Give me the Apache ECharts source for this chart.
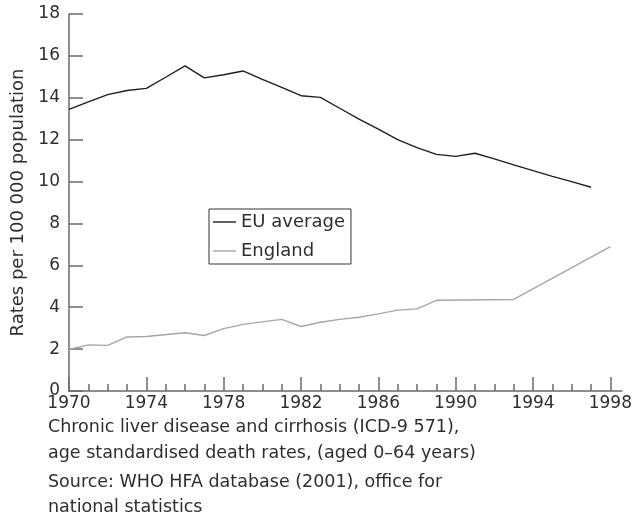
<!DOCTYPE html>
<html>
<head>
<meta charset="utf-8">
<script src="https://cdn.jsdelivr.net/npm/echarts@6/dist/echarts.min.js"></script>
<style>
  html, body { margin: 0; padding: 0; background: #fff; }
  #main { width: 635px; height: 518px; }
</style>
</head>
<body>
<div id="main"></div>
<script>
// EU average, one point per year
const euYears = [1970, 1971, 1972, 1973, 1974, 1975, 1976, 1977, 1978, 1979, 1980, 1981, 1982, 1983,
    1984, 1985, 1986, 1987, 1988, 1989, 1990, 1991, 1992, 1993, 1994, 1995, 1996, 1997]
const euRates = [13.45, 13.8, 14.15, 14.35, 14.45, 14.98, 15.52, 14.95, 15.1, 15.28, 14.88, 14.5, 14.1, 14.02,
    13.5, 12.98, 12.5, 12.0, 11.62, 11.3, 11.2, 11.35, 11.08, 10.8, 10.52, 10.25, 10.0, 9.73]

// England, points where the line bends
const englandYears = [1970, 1971, 1972, 1973, 1974, 1976, 1977, 1978, 1979, 1980, 1981, 1982, 1983,
    1984, 1985, 1986, 1987, 1988, 1989, 1993, 1998]
const englandRates = [1.98, 2.2, 2.18, 2.58, 2.6, 2.78, 2.65, 2.98, 3.18, 3.3, 3.42, 3.08, 3.28,
    3.42, 3.52, 3.68, 3.86, 3.92, 4.33, 4.37, 6.89]

const labelYears = [1970, 1974, 1978, 1982, 1986, 1990, 1994, 1998]
const minorYears = [1970, 1971, 1972, 1973, 1974, 1975, 1976, 1977, 1978, 1979, 1980, 1981, 1982, 1983,
    1984, 1985, 1986, 1987, 1988, 1989, 1990, 1991, 1992, 1993, 1994, 1995, 1996, 1997, 1998]

const captionLines = [
    'Chronic liver disease and cirrhosis (ICD-9 571),',
    'age standardised death rates, (aged 0\u201364 years)',
    'Source: WHO HFA database (2001), office for',
    'national statistics',
]
const captionTops = [418, 444, 473, 498]

const FONT = 'DejaVu Sans'
const TEXT = '#2e2e2e'
const AXIS = '#6a6a6a'

const pairs = (xs, ys) => xs.map((x, i) => [x, ys[i]])

const chart = echarts.init(document.getElementById('main'), null, { renderer: 'canvas' })

const option = {
    animation: false,
    textStyle: { fontFamily: FONT },
    grid: { left: 69, top: 14, width: 556, height: 377 },
    legend: {
        orient: 'vertical',
        left: 209,
        top: 209,
        padding: [4, 6, 4, 4],
        itemGap: 11,
        itemWidth: 23,
        itemHeight: 1.4,
        icon: 'rect',
        borderColor: '#333',
        borderWidth: 1,
        textStyle: { fontFamily: FONT, fontSize: 18, color: TEXT },
        data: ['EU average', 'England'],
    },
    xAxis: [
        {
            type: 'value',
            min: 1970,
            max: 1998.6,
            axisLine: { lineStyle: { color: AXIS, width: 1.5 } },
            axisTick: {
                inside: true,
                length: 14,
                customValues: labelYears,
                lineStyle: { color: AXIS, width: 1.5 },
            },
            axisLabel: {
                customValues: labelYears,
                formatter: (v) => String(v),
                margin: 4,
                fontSize: 17,
                color: TEXT,
                fontFamily: FONT,
            },
            splitLine: { show: false },
        },
        {
            type: 'value',
            min: 1970,
            max: 1998.6,
            position: 'bottom',
            axisLine: { show: false },
            axisTick: {
                inside: true,
                length: 7,
                customValues: minorYears,
                lineStyle: { color: AXIS, width: 1.5 },
            },
            axisLabel: { show: false },
            splitLine: { show: false },
        },
    ],
    yAxis: {
        type: 'value',
        min: 0,
        max: 18,
        interval: 2,
        name: 'Rates per 100 000 population',
        nameLocation: 'middle',
        nameGap: 40,
        nameTextStyle: { fontSize: 18, color: TEXT, fontFamily: FONT },
        axisLine: { show: true, lineStyle: { color: AXIS, width: 1.5 } },
        axisTick: { show: true, inside: true, length: 14, lineStyle: { color: AXIS, width: 1.5 } },
        axisLabel: { margin: 9, fontSize: 17, color: TEXT, fontFamily: FONT },
        splitLine: { show: false },
    },
    graphic: captionLines.map((line, i) => ({
        type: 'text',
        left: 48,
        top: captionTops[i],
        style: { text: line, fontSize: 17.5, fill: TEXT, fontFamily: FONT },
    })),
    series: [
        {
            name: 'EU average',
            type: 'line',
            symbol: 'none',
            data: pairs(euYears, euRates),
            lineStyle: { color: '#1e1e1e', width: 1.4 },
            itemStyle: { color: '#1e1e1e' },
        },
        {
            name: 'England',
            type: 'line',
            symbol: 'none',
            data: pairs(englandYears, englandRates),
            lineStyle: { color: '#a6a6a6', width: 1.4 },
            itemStyle: { color: '#a6a6a6' },
        },
    ],
}

chart.setOption(option)
</script>
</body>
</html>
